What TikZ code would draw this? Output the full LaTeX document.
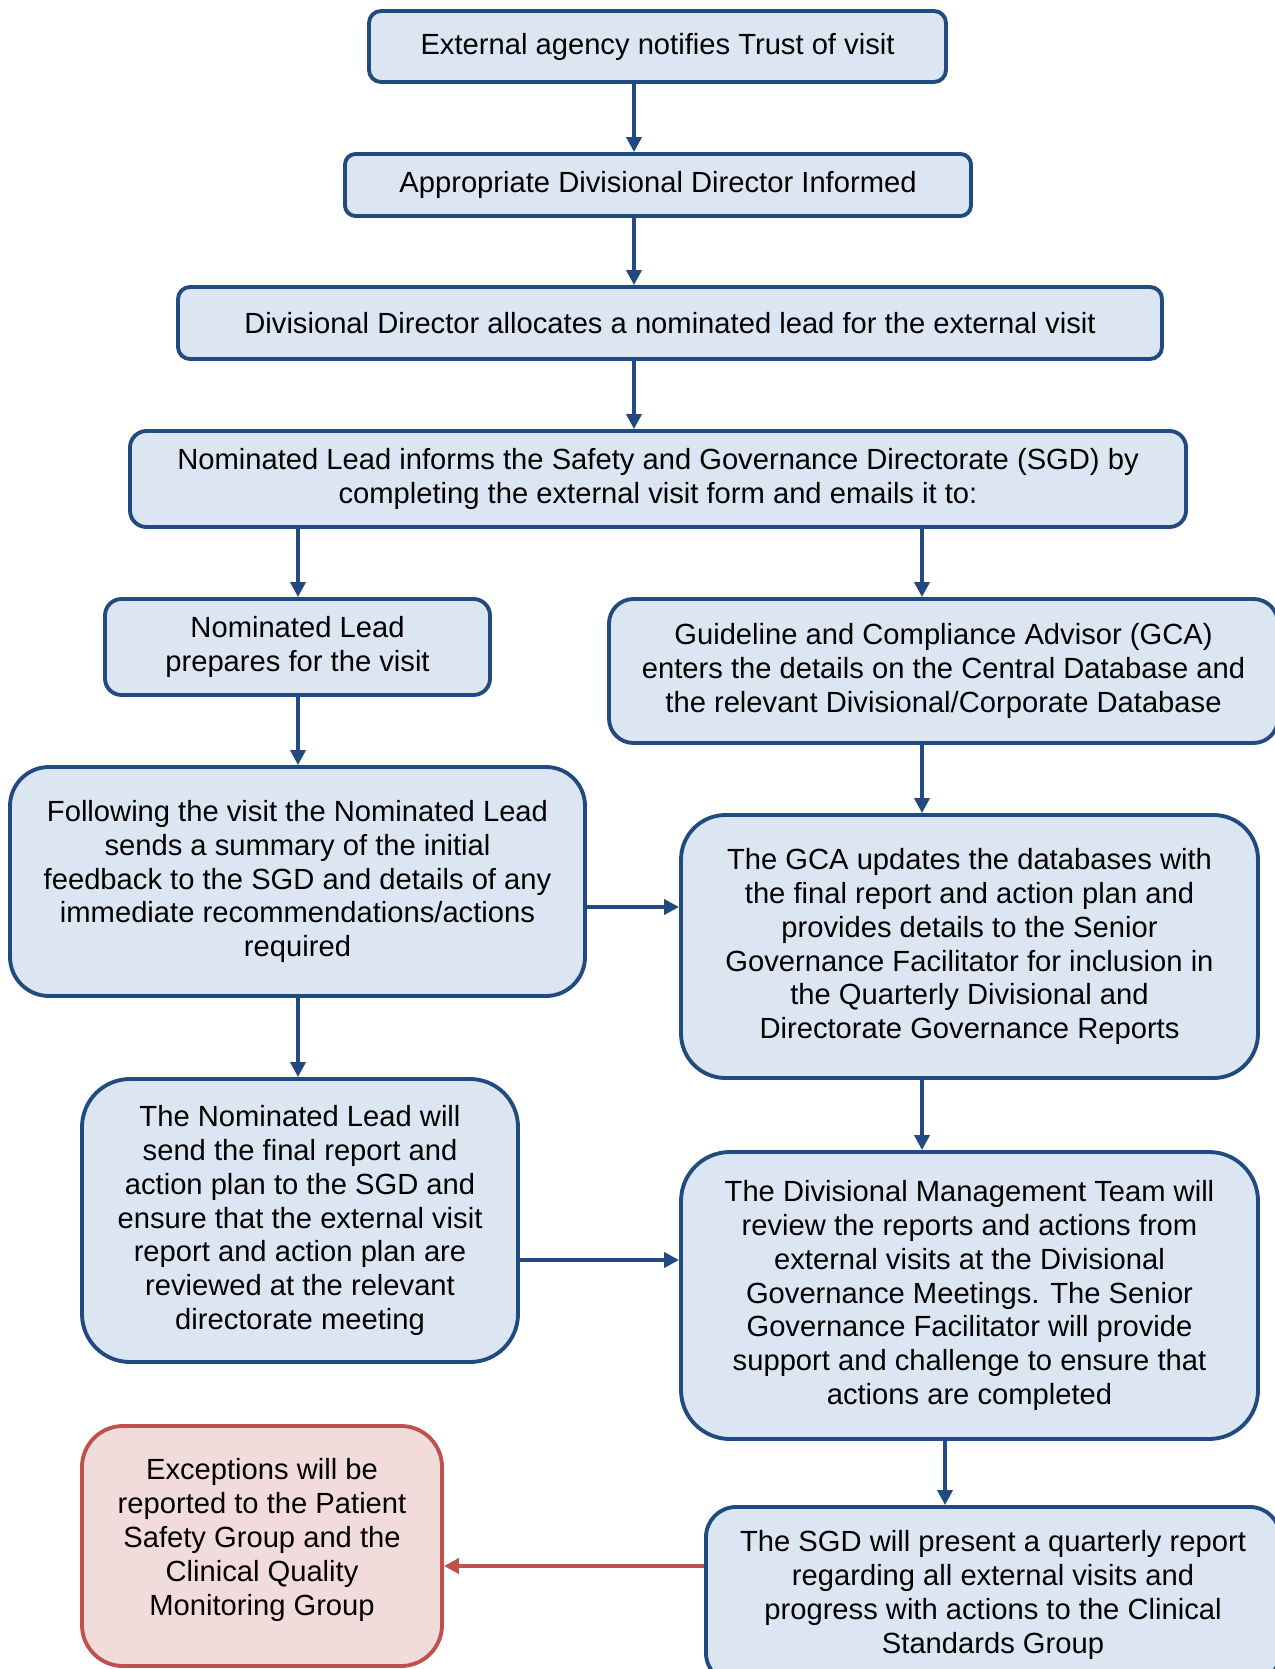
\documentclass[tikz,border=0pt]{standalone}
\usepackage{fontspec}
\setmainfont{Liberation Sans}
\usetikzlibrary{arrows.meta}
\definecolor{boxblue}{RGB}{220,230,242}
\definecolor{lineblue}{RGB}{33,74,128}
\definecolor{boxred}{RGB}{242,220,219}
\definecolor{linered}{RGB}{192,80,77}

\begin{document}
\begin{tikzpicture}[
    box/.style={draw=lineblue, fill=boxblue, line width=2.2pt, align=center, inner sep=0pt,
        font=\fontsize{16.6}{19.3}\selectfont},
    redbox/.style={box, draw=linered, fill=boxred},
    flow/.style={-{Triangle[length=0.3cm, width=0.3cm]}, line width=2.1pt, color=lineblue},
    redflow/.style={flow, color=linered}]
        \useasboundingbox (0,0) rectangle (25.5,-33.38);

        % Columns and rows the connectors run on
        \coordinate (midcol) at (12.68,0);
        \coordinate (leftcol) at (5.96,0);
        \coordinate (rightcol) at (18.44,0);
        \coordinate (lastcol) at (18.90,0);
        \coordinate (rowone) at (0,-18.14);
        \coordinate (rowtwo) at (0,-25.20);
        \coordinate (rowred) at (0,-31.32);

        % Top chain
        \node[box, minimum width=11.54cm, minimum height=1.42cm, rounded corners=0.24cm] (notify) at (13.15,-0.93) {External agency notifies Trust of visit};
        \node[box, minimum width=12.52cm, minimum height=1.24cm, rounded corners=0.21cm] (informed) at (13.16,-3.70) {Appropriate Divisional Director Informed};
        \node[box, minimum width=19.68cm, minimum height=1.44cm, rounded corners=0.24cm] (allocate) at (13.40,-6.46) {Divisional Director allocates a nominated lead for the external visit};
        \node[box, minimum width=21.12cm, minimum height=1.92cm, rounded corners=0.33cm] (sgdform) at (13.16,-9.58) {Nominated Lead informs the Safety and Governance Directorate (SGD) by\\completing the external visit form and emails it to:};

        % Left branch: nominated lead
        \node[box, minimum width=7.70cm, minimum height=1.92cm, rounded corners=0.33cm] (prepare) at (5.95,-12.94) {Nominated Lead\\prepares for the visit};
        \node[box, minimum width=11.50cm, minimum height=4.58cm, rounded corners=0.78cm] (feedback) at (5.95,-17.63) {Following the visit the Nominated Lead\\sends a summary of the initial\\feedback to the SGD and details of any\\immediate recommendations/actions\\required};
        \node[box, minimum width=8.72cm, minimum height=5.66cm, rounded corners=0.96cm] (finalreport) at (6.00,-24.41) {The Nominated Lead will\\send the final report and\\action plan to the SGD and\\ensure that the external visit\\report and action plan are\\reviewed at the relevant\\directorate meeting};
        \node[redbox, minimum width=7.20cm, minimum height=4.80cm, rounded corners=0.82cm] (exceptions) at (5.24,-30.92) {Exceptions will be\\reported to the Patient\\Safety Group and the\\Clinical Quality\\Monitoring Group\\[-0.32cm]};

        % Right branch: GCA and governance
        \node[box, minimum width=13.38cm, minimum height=2.88cm, rounded corners=0.49cm] (gcaenter) at (18.87,-13.42) {Guideline and Compliance Advisor (GCA)\\enters the details on the Central Database and\\the relevant Divisional/Corporate Database};
        \node[box, minimum width=11.54cm, minimum height=5.26cm, rounded corners=0.89cm] (gcaupdate) at (19.39,-18.93) {The GCA updates the databases with\\the final report and action plan and\\provides details to the Senior\\Governance Facilitator for inclusion in\\the Quarterly Divisional and\\Directorate Governance Reports};
        \node[box, minimum width=11.54cm, minimum height=5.74cm, rounded corners=0.98cm] (dmtreview) at (19.39,-25.91) {The Divisional Management Team will\\review the reports and actions from\\external visits at the Divisional\\Governance Meetings. The Senior\\Governance Facilitator will provide\\support and challenge to ensure that\\actions are completed};
        \node[box, minimum width=11.48cm, minimum height=3.52cm, rounded corners=0.60cm] (quarterly) at (19.86,-31.90) {The SGD will present a quarterly report\\regarding all external visits and\\progress with actions to the Clinical\\Standards Group};

        % Connectors
        \draw[flow] (notify.south -| midcol) -- (informed.north -| midcol);
        \draw[flow] (informed.south -| midcol) -- (allocate.north -| midcol);
        \draw[flow] (allocate.south -| midcol) -- (sgdform.north -| midcol);
        \draw[flow] (sgdform.south -| leftcol) -- (prepare.north -| leftcol);
        \draw[flow] (sgdform.south -| rightcol) -- (gcaenter.north -| rightcol);
        \draw[flow] (prepare.south -| leftcol) -- (feedback.north -| leftcol);
        \draw[flow] (gcaenter.south -| rightcol) -- (gcaupdate.north -| rightcol);
        \draw[flow] (feedback.east |- rowone) -- (gcaupdate.west |- rowone);
        \draw[flow] (feedback.south -| leftcol) -- (finalreport.north -| leftcol);
        \draw[flow] (gcaupdate.south -| rightcol) -- (dmtreview.north -| rightcol);
        \draw[flow] (finalreport.east |- rowtwo) -- (dmtreview.west |- rowtwo);
        \draw[flow] (dmtreview.south -| lastcol) -- (quarterly.north -| lastcol);
        \draw[redflow] (quarterly.west |- rowred) -- (exceptions.east |- rowred);
    \end{tikzpicture}
\end{document}
